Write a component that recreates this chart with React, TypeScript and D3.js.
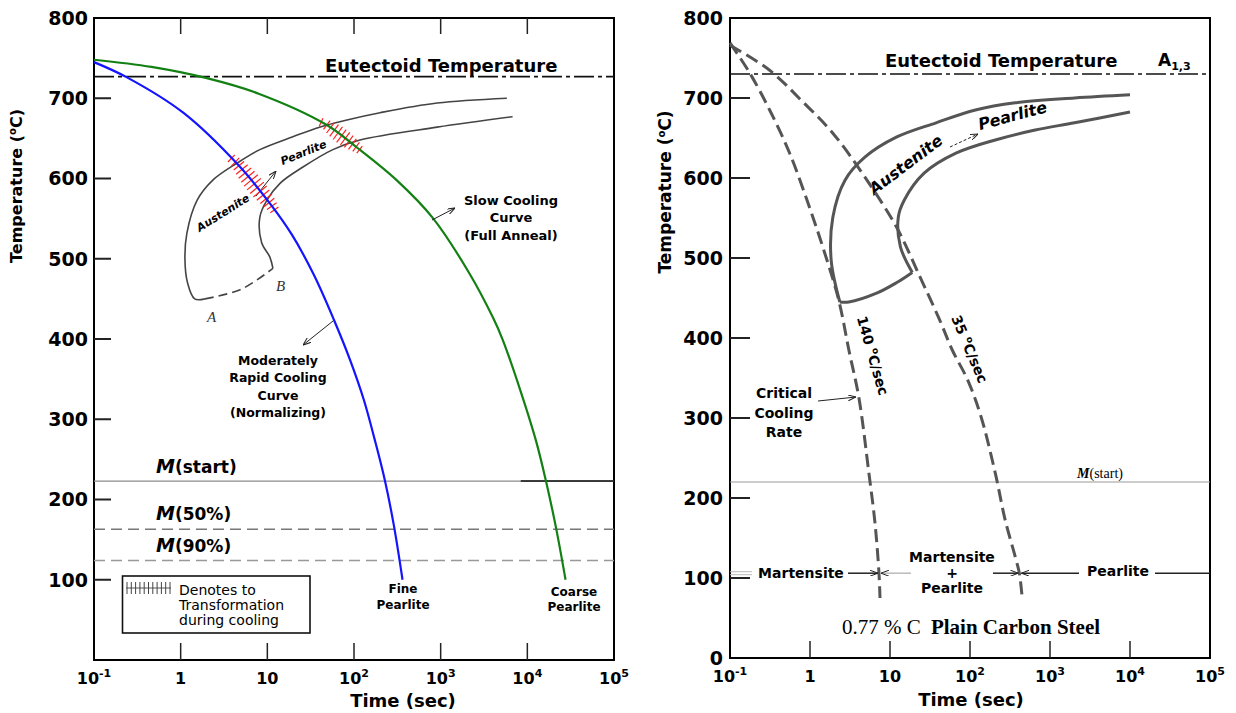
import * as d3 from 'd3'

type Pt = [number, number]

const SANS = '"DejaVu Sans", Verdana, sans-serif'
const SERIF = '"Liberation Serif", "Times New Roman", serif'

// shared axis ticks
const xTicks = [0.1, 1, 10, 100, 1000, 10000, 100000]
const xTickBase = ['10', '1', '10', '10', '10', '10', '10']
const xTickExp = ['-1', '', '', '2', '3', '4', '5']
const yTicksLeft = [100, 200, 300, 400, 500, 600, 700, 800]
const yTicksRight = [0, 100, 200, 300, 400, 500, 600, 700, 800]

// left panel: cooling curves, (time in s, temperature in °C)
const normalizingCurve: Pt[] = [
  [0.1, 745], [0.24, 726], [1.07, 682], [4.6, 617], [10.7, 569], [19.2, 530], [34.4, 480],
  [58.6, 424], [90, 374], [130, 324], [174, 274], [227, 224], [288, 168], [363, 100],
]
const annealCurve: Pt[] = [
  [0.1, 748], [0.46, 739], [2, 725], [7.8, 706], [48, 667], [110, 638], [310, 598],
  [810, 551], [2140, 482], [4000, 427], [5200, 399], [8300, 336], [12600, 273],
  [16400, 223], [21500, 164], [27600, 100],
]
const leftStart: Pt[] = [
  [1.9, 450], [1.45, 450], [1.2, 470], [1.12, 500], [1.18, 532], [1.55, 573], [2.35, 598],
  [4.45, 619], [8.2, 636], [19.7, 652], [40, 664], [83, 673], [200, 682], [910, 694], [5800, 700],
]
const leftFinish: Pt[] = [
  [11.6, 488], [10.7, 502], [8.6, 520], [8.2, 552], [9.9, 573], [14, 594], [25.5, 614],
  [57, 636], [117, 648], [910, 664], [6760, 677],
]
const leftBottom: Pt[] = [[1.9, 450], [5, 462], [11.6, 488]]
const hatchNormalizing = [625, 561]
const hatchAnneal = [670, 636]
const eutectoidLeft = 727
const mStart = 223
const m50 = 163
const m90 = 124

// right panel: continuous cooling curves
const rate140: Pt[] = [
  [0.1, 769], [0.177, 731], [0.313, 685], [0.557, 631], [0.98, 564], [1.53, 506],
  [2.29, 447], [3.06, 385], [4.09, 325], [5.45, 231], [6.49, 169], [7.28, 106], [7.5, 75],
]
const rate35: Pt[] = [
  [0.1, 766], [0.31, 735], [0.78, 697], [1.93, 656], [4.86, 601], [12, 539], [23.8, 476],
  [42, 422], [60, 385], [94, 347], [138, 301], [207, 231], [276, 172], [369, 126],
  [414, 106], [452, 72],
]
const rightStart: Pt[] = [
  [2.36, 445], [1.84, 497], [1.93, 551], [2.73, 597], [4.85, 626], [12, 651], [37.7, 669],
  [117, 685], [369, 694], [2030, 700], [10000, 704],
]
const rightBottom: Pt[] = [[19, 482], [12, 469], [6.8, 456], [3.06, 445], [2.36, 445]]
const rightFinish: Pt[] = [
  [19, 482], [13.5, 514], [12.7, 551], [15.1, 572.5], [26.7, 606], [66.7, 631],
  [207, 647.5], [653, 660], [2030, 669], [10000, 682.5],
]
const eutectoidRight = 730
const mStartRight = 220
const productTemp = 106

type Scale = (v: number) => number

function curvePath(pts: Pt[], x: Scale, y: Scale) {
  return d3.line<Pt>()
    .x(d => x(d[0]))
    .y(d => y(d[1]))
    .curve(d3.curveCatmullRom.alpha(0.5))(pts) || ''
}

// short strokes across a curve between two temperatures
function hatch(curve: Pt[], range: number[], n: number, len: number, x: Scale, y: Scale) {
  const px = curve.map(d => [x(d[0]), y(d[1])])
  const out: { x1: number; y1: number; x2: number; y2: number }[] = []
  for (let i = 0; i < n; i++) {
    const t = i / (n - 1)
    const py = y(range[0] + (range[1] - range[0]) * t)
    for (let j = 0; j < px.length - 1; j++) {
      const a = px[j], b = px[j + 1]
      if (a[1] <= py && b[1] >= py) {
        const f = (py - a[1]) / (b[1] - a[1])
        const cx = a[0] + (b[0] - a[0]) * f
        const dx = b[0] - a[0], dy = b[1] - a[1]
        const m = Math.hypot(dx, dy)
        const nx = -dy / m, ny = dx / m
        const l = len * (0.55 + 0.45 * Math.sin(Math.PI * t)) / 2
        out.push({ x1: cx - nx * l, y1: py - ny * l, x2: cx + nx * l, y2: py + ny * l })
        break
      }
    }
  }
  return out
}

function Frame({ x, y, topTicks, yTicks, labelX, tickLen }: {
  x: d3.ScaleLogarithmic<number, number>; y: d3.ScaleLinear<number, number>
  topTicks: boolean; yTicks: number[]; labelX: number; tickLen: number
}) {
  const [x0, x1] = x.range()
  const [y0, y1] = y.range()
  return (
    <g>
      <rect x={x0} y={y1} width={x1 - x0} height={y0 - y1} fill="none" stroke="#000" strokeWidth={2} />
      {xTicks.slice(1, -1).map(t => (
        <g key={t}>
          <line x1={x(t)} x2={x(t)} y1={y0} y2={y0 - 17} stroke="#222" strokeWidth={1.5} />
          {topTicks && <line x1={x(t)} x2={x(t)} y1={y1} y2={y1 + 16} stroke="#222" strokeWidth={1.5} />}
        </g>
      ))}
      {xTicks.map((t, i) => (
        <text key={t} x={x(t)} y={y0 + 24} textAnchor="middle" fontFamily={SANS} fontWeight="bold" fontSize={16}>
          {xTickBase[i]}
          {xTickExp[i] && <tspan dy={-7} fontSize={11}>{xTickExp[i]}</tspan>}
        </text>
      ))}
      {yTicks.map(v => (
        <g key={v}>
          {v > 0 && v < 800 && (
            <line x1={x0} x2={x0 + tickLen} y1={y(v)} y2={y(v)} stroke="#222" strokeWidth={2} />
          )}
          <text x={labelX} y={y(v)} dy="0.36em" textAnchor="end" fontFamily={SANS} fontWeight="bold" fontSize={19}>{v}</text>
        </g>
      ))}
    </g>
  )
}

function Lines({ x, y, lines, size, weight = 'bold', anchor = 'middle', lh }: {
  x: number; y: number; lines: string[]; size: number; weight?: string; anchor?: string; lh: number
}) {
  return (
    <text x={x} y={y} textAnchor={anchor} fontFamily={SANS} fontWeight={weight} fontSize={size}>
      {lines.map((s, i) => (
        <tspan key={i} x={x} dy={i === 0 ? '0.36em' : lh}>{s}</tspan>
      ))}
    </text>
  )
}

function LeftPanel() {
  const x = d3.scaleLog().domain([0.1, 1e5]).range([94, 614])
  const y = d3.scaleLinear().domain([0, 800]).range([660, 18])
  const hatchA = hatch(normalizingCurve, hatchNormalizing, 15, 18, x, y)
  const hatchB = hatch(annealCurve, hatchAnneal, 11, 16, x, y)
  const mLabel = (label: string, v: number, dyPx: number) => (
    <text x={156} y={y(v) - dyPx} fontFamily={SANS} fontWeight="bold" fontSize={17}>
      <tspan fontStyle="italic" fontSize={19}>M</tspan>{label}
    </text>
  )
  return (
    <g>
      <Frame x={x} y={y} topTicks yTicks={yTicksLeft} labelX={88} tickLen={17} />
      <text transform="translate(22,186) rotate(-90)" textAnchor="middle" fontFamily={SANS} fontWeight="bold" fontSize={16}>
        Temperature (<tspan dy={-6} fontSize={10}>o</tspan><tspan dy={6}>C)</tspan>
      </text>
      <text x={403} y={707} textAnchor="middle" fontFamily={SANS} fontWeight="bold" fontSize={18}>Time (sec)</text>

      {/* eutectoid + martensite lines */}
      <line x1={x(0.1)} x2={x(1e5)} y1={y(eutectoidLeft)} y2={y(eutectoidLeft)} stroke="#111" strokeWidth={1.6} strokeDasharray="20,4,4,4" />
      <text x={325} y={72} fontFamily={SANS} fontWeight="bold" fontSize={18}>Eutectoid Temperature</text>
      <line x1={x(0.1)} x2={x(1e5)} y1={y(mStart)} y2={y(mStart)} stroke="#8a8a8a" strokeWidth={1.2} />
      <line x1={x(8400)} x2={x(1e5)} y1={y(mStart)} y2={y(mStart)} stroke="#111" strokeWidth={1.6} />
      <line x1={x(0.1)} x2={x(1e5)} y1={y(m50)} y2={y(m50)} stroke="#777" strokeWidth={1.4} strokeDasharray="11,6" />
      <line x1={x(0.1)} x2={x(1e5)} y1={y(m90)} y2={y(m90)} stroke="#999" strokeWidth={1.4} strokeDasharray="11,6" />
      {mLabel('(start)', mStart, 8)}
      {mLabel('(50%)', m50, 9)}
      {mLabel('(90%)', m90, 8)}

      {/* transformation band */}
      <path d={curvePath(leftStart, x, y)} fill="none" stroke="#444" strokeWidth={1.6} />
      <path d={curvePath(leftFinish, x, y)} fill="none" stroke="#444" strokeWidth={1.6} />
      <path d={curvePath(leftBottom, x, y)} fill="none" stroke="#444" strokeWidth={1.6} strokeDasharray="9,5" />
      <text x={207} y={322} fontFamily={SERIF} fontStyle="italic" fontSize={15} fill="#333">A</text>
      <text x={276} y={291} fontFamily={SERIF} fontStyle="italic" fontSize={15} fill="#333">B</text>
      <text transform="translate(225,216) rotate(-32)" textAnchor="middle" fontFamily={SANS} fontStyle="italic" fontWeight="bold" fontSize={11}>Austenite</text>
      <text transform="translate(305,156) rotate(-22)" textAnchor="middle" fontFamily={SANS} fontStyle="italic" fontWeight="bold" fontSize={11}>Pearlite</text>
      <line x1={256} y1={196} x2={276} y2={171} stroke="#222" strokeWidth={1} markerEnd="url(#arr)" />

      {/* hatching where the curves cross the band */}
      {[...hatchA, ...hatchB].map((h, i) => (
        <line key={i} {...h} stroke="#ff2020" strokeWidth={1.2} />
      ))}

      {/* cooling curves */}
      <path d={curvePath(normalizingCurve, x, y)} fill="none" stroke="#1414ff" strokeWidth={2.2} />
      <path d={curvePath(annealCurve, x, y)} fill="none" stroke="#138013" strokeWidth={2.2} />

      <Lines x={511} y={200} lines={['Slow Cooling', 'Curve', '(Full Anneal)']} size={13} lh={17.5} />
      <line x1={432} y1={220} x2={455} y2={208} stroke="#222" strokeWidth={1} markerEnd="url(#arr)" />
      <Lines x={278} y={360} lines={['Moderately', 'Rapid Cooling', 'Curve', '(Normalizing)']} size={12.5} lh={17.5} />
      <line x1={333} y1={321} x2={303} y2={345} stroke="#222" strokeWidth={1} markerEnd="url(#arr)" />
      <Lines x={403} y={589} lines={['Fine', 'Pearlite']} size={12} lh={16} />
      <Lines x={574} y={592} lines={['Coarse', 'Pearlite']} size={12} lh={15} />

      {/* legend */}
      <rect x={122.5} y={576} width={187.5} height={57} fill="#fff" stroke="#111" strokeWidth={1.6} />
      <line x1={126} x2={171} y1={588} y2={588} stroke="#555" strokeWidth={1} />
      {d3.range(11).map(i => (
        <line key={i} x1={127 + i * 4.3} x2={127 + i * 4.3} y1={582} y2={594} stroke="#444" strokeWidth={1} />
      ))}
      <Lines x={179} y={590} lines={['Denotes to', 'Transformation', 'during cooling']} size={14} weight="normal" anchor="start" lh={15} />
    </g>
  )
}

function RightPanel() {
  const x = d3.scaleLog().domain([0.1, 1e5]).range([730, 1210])
  const y = d3.scaleLinear().domain([0, 800]).range([658, 18])
  const yp = y(productTemp)
  const sup = (s: string) => <tspan dy={-6} fontSize={9}>{s}</tspan>
  return (
    <g>
      <Frame x={x} y={y} topTicks={false} yTicks={yTicksRight} labelX={723} tickLen={20} />
      <text transform="translate(671,192) rotate(-90)" textAnchor="middle" fontFamily={SANS} fontWeight="bold" fontSize={17}>
        Temperature (<tspan dy={-6} fontSize={10}>o</tspan><tspan dy={6}>C)</tspan>
      </text>
      <text x={971} y={706} textAnchor="middle" fontFamily={SANS} fontWeight="bold" fontSize={18}>Time (sec)</text>

      <line x1={x(0.1)} x2={x(1e5)} y1={y(eutectoidRight)} y2={y(eutectoidRight)} stroke="#111" strokeWidth={1.6} strokeDasharray="20,4,4,4" />
      <text x={885} y={67} fontFamily={SANS} fontWeight="bold" fontSize={18}>Eutectoid Temperature</text>
      <text x={1158} y={66} fontFamily={SANS} fontWeight="bold" fontSize={17}>
        A<tspan dy={4} fontSize={11}>1,3</tspan>
      </text>

      <line x1={x(0.1)} x2={x(1e5)} y1={y(mStartRight)} y2={y(mStartRight)} stroke="#999" strokeWidth={1} />
      <text x={1100} y={478} textAnchor="middle" fontFamily={SERIF} fontSize={14}>
        <tspan fontStyle="italic" fontWeight="bold">M</tspan>(start)
      </text>

      {/* transformation band */}
      <path d={curvePath(rightStart, x, y)} fill="none" stroke="#555" strokeWidth={3} />
      <path d={curvePath(rightFinish, x, y)} fill="none" stroke="#555" strokeWidth={3} />
      <path d={curvePath(rightBottom, x, y)} fill="none" stroke="#555" strokeWidth={3} />
      <text transform="translate(909,169) rotate(-37)" textAnchor="middle" fontFamily={SANS} fontStyle="italic" fontWeight="bold" fontSize={16}>Austenite</text>
      <text transform="translate(1014,121) rotate(-15)" textAnchor="middle" fontFamily={SANS} fontStyle="italic" fontWeight="bold" fontSize={16}>Pearlite</text>
      <line x1={950} y1={147} x2={978} y2={134} stroke="#222" strokeWidth={1} strokeDasharray="3,2" markerEnd="url(#arr)" />

      {/* cooling rates */}
      <path d={curvePath(rate140, x, y)} fill="none" stroke="#555" strokeWidth={3} strokeDasharray="13,6" />
      <path d={curvePath(rate35, x, y)} fill="none" stroke="#555" strokeWidth={3} strokeDasharray="13,6" />
      <text transform="translate(868,357) rotate(74)" textAnchor="middle" fontFamily={SANS} fontWeight="bold" fontSize={14}>
        140 {sup('o')}<tspan dy={6}>C/sec</tspan>
      </text>
      <text transform="translate(965,351) rotate(67)" textAnchor="middle" fontFamily={SANS} fontWeight="bold" fontSize={14}>
        35 {sup('o')}<tspan dy={6}>C/sec</tspan>
      </text>
      <Lines x={784} y={393} lines={['Critical', 'Cooling', 'Rate']} size={14} lh={19.5} />
      <line x1={818} y1={401} x2={856} y2={397} stroke="#222" strokeWidth={1} markerEnd="url(#arr)" />

      {/* product line */}
      <line x1={x(0.1)} x2={752} y1={yp - 1.5} y2={yp - 1.5} stroke="#bbb" strokeWidth={1} />
      <line x1={x(0.1)} x2={752} y1={yp + 1.5} y2={yp + 1.5} stroke="#bbb" strokeWidth={1} />
      <Lines x={801} y={yp} lines={['Martensite']} size={14} lh={0} />
      <line x1={848} x2={x(rate140[11][0]) - 1} y1={yp} y2={yp} stroke="#222" strokeWidth={1.5} markerEnd="url(#arr)" />
      <line x1={911} x2={x(rate140[11][0]) + 2} y1={yp} y2={yp} stroke="#bbb" strokeWidth={1.5} markerEnd="url(#arr)" />
      <Lines x={952} y={557} lines={['Martensite', '+', 'Pearlite']} size={14} lh={15.5} />
      <line x1={993} x2={x(rate35[14][0]) - 1} y1={yp} y2={yp} stroke="#222" strokeWidth={1.5} markerEnd="url(#arr)" />
      <line x1={1079} x2={x(rate35[14][0]) + 2} y1={yp} y2={yp} stroke="#222" strokeWidth={1.5} markerEnd="url(#arr)" />
      <Lines x={1118} y={yp - 2} lines={['Pearlite']} size={14} lh={0} />
      <line x1={1155} x2={x(1e5)} y1={yp} y2={yp} stroke="#222" strokeWidth={1.5} />

      <text x={971} y={634} textAnchor="middle" fontFamily={SERIF} fontSize={21}>
        0.77 % C <tspan dx={5} fontWeight="bold">Plain Carbon Steel</tspan>
      </text>
    </g>
  )
}

export default function App() {
  return (
    <svg width={1236} height={713} style={{ position: 'absolute', left: 0, top: 0, background: '#fff' }}>
      <defs>
        <marker id="arr" viewBox="0 0 8 6" refX={8} refY={3} markerWidth={8} markerHeight={6} markerUnits="userSpaceOnUse" orient="auto">
          <path d="M0,0 L8,3 L0,6" fill="none" stroke="#222" strokeWidth={1} />
        </marker>
      </defs>
      <rect width={1236} height={713} fill="#fff" />
      <LeftPanel />
      <RightPanel />
    </svg>
  )
}
